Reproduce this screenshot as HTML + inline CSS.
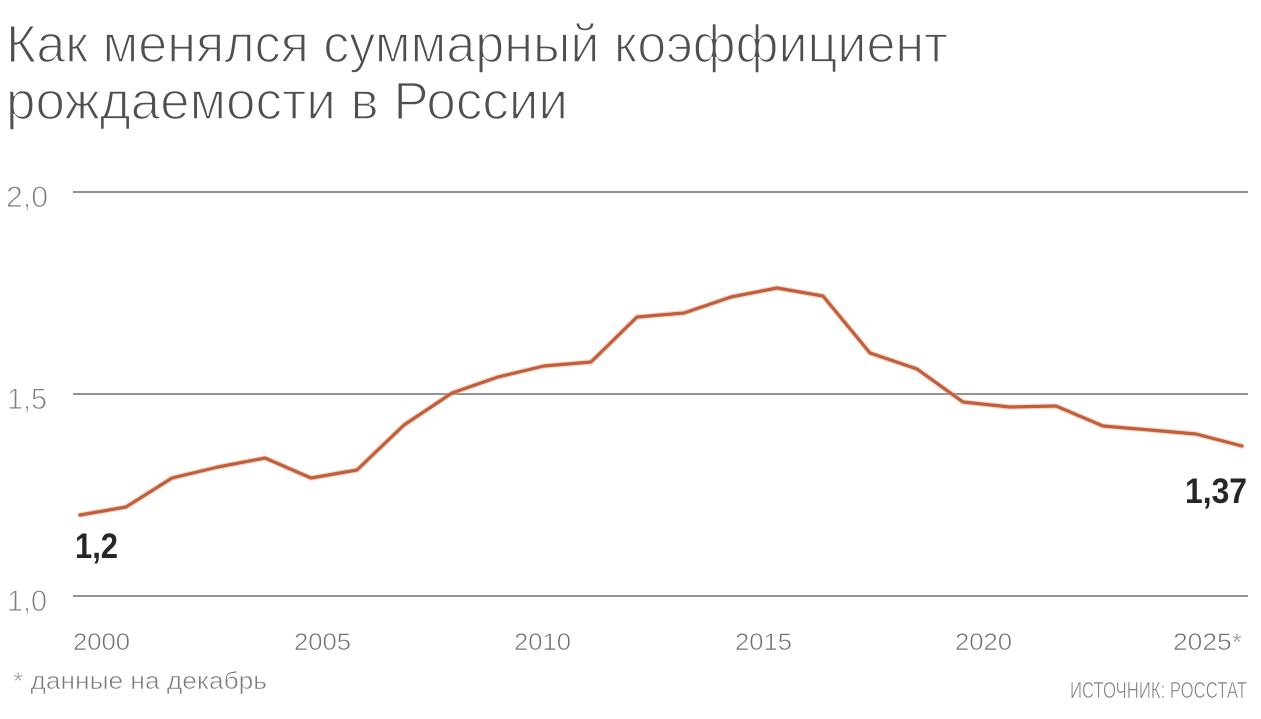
<!DOCTYPE html>
<html>
<head>
<meta charset="utf-8">
<style>
  html, body { margin: 0; padding: 0; background: #ffffff; }
  body { width: 1261px; height: 719px; overflow: hidden; }
  svg { display: block; }
  text { font-family: "Liberation Sans", "Noto Sans CJK SC", sans-serif; }
</style>
</head>
<body>
<svg width="1261" height="719" viewBox="0 0 1261 719" xmlns="http://www.w3.org/2000/svg">
  <rect x="0" y="0" width="1261" height="719" fill="#ffffff"/>

  <!-- Title (thinned with white stroke to mimic light weight) -->
  <text x="6" y="62" font-size="53" fill="#4f4f4f" stroke="#ffffff" stroke-width="1.6" textLength="942" lengthAdjust="spacingAndGlyphs">Как менялся суммарный коэффициент</text>
  <text x="6" y="119" font-size="53" fill="#4f4f4f" stroke="#ffffff" stroke-width="1.6" textLength="562" lengthAdjust="spacingAndGlyphs">рождаемости в России</text>

  <!-- Gridlines -->
  <line x1="73" y1="192" x2="1248" y2="192" stroke="#939393" stroke-width="2"/>
  <line x1="73" y1="394" x2="1248" y2="394" stroke="#939393" stroke-width="2"/>
  <line x1="73" y1="596" x2="1248" y2="596" stroke="#939393" stroke-width="2"/>

  <!-- Y labels -->
  <text x="6" y="207" font-size="30" fill="#7e7e7e" stroke="#ffffff" stroke-width="0.9" textLength="42" lengthAdjust="spacingAndGlyphs">2,0</text>
  <text x="7" y="409" font-size="30" fill="#7e7e7e" stroke="#ffffff" stroke-width="0.9" textLength="40" lengthAdjust="spacingAndGlyphs">1,5</text>
  <text x="7" y="611" font-size="30" fill="#7e7e7e" stroke="#ffffff" stroke-width="0.9" textLength="40" lengthAdjust="spacingAndGlyphs">1,0</text>

  <!-- X labels -->
  <text x="73" y="650" font-size="24" fill="#707070" stroke="#ffffff" stroke-width="0.6" textLength="57" lengthAdjust="spacingAndGlyphs">2000</text>
  <text x="294" y="650" font-size="24" fill="#707070" stroke="#ffffff" stroke-width="0.6" textLength="57" lengthAdjust="spacingAndGlyphs">2005</text>
  <text x="514" y="650" font-size="24" fill="#707070" stroke="#ffffff" stroke-width="0.6" textLength="57" lengthAdjust="spacingAndGlyphs">2010</text>
  <text x="735" y="650" font-size="24" fill="#707070" stroke="#ffffff" stroke-width="0.6" textLength="57" lengthAdjust="spacingAndGlyphs">2015</text>
  <text x="955" y="650" font-size="24" fill="#707070" stroke="#ffffff" stroke-width="0.6" textLength="57" lengthAdjust="spacingAndGlyphs">2020</text>
  <text x="1173" y="650" font-size="24" fill="#707070" stroke="#ffffff" stroke-width="0.6" textLength="69" lengthAdjust="spacingAndGlyphs">2025*</text>

  <!-- Data line -->
  <polyline fill="none" stroke="#e9a48a" stroke-width="5.5" stroke-linejoin="round" stroke-linecap="round" opacity="0.45"
    points="80,515 126,507 172,478 218,467 265,458 311,478 357,470 404,425 452,393 498,377 544,366 591,362 637,317 684,313 731,297 777,288 823,296 870,353 917,369 963,402 1010,407 1056,406 1103,426 1150,430 1196,434 1242,446"/>
  <polyline fill="none" stroke="#bf5f3c" stroke-width="3.2" stroke-linejoin="round" stroke-linecap="round"
    points="80,515 126,507 172,478 218,467 265,458 311,478 357,470 404,425 452,393 498,377 544,366 591,362 637,317 684,313 731,297 777,288 823,296 870,353 917,369 963,402 1010,407 1056,406 1103,426 1150,430 1196,434 1242,446"/>

  <!-- Value labels -->
  <text x="75" y="558" font-size="35" font-weight="bold" fill="#262626" textLength="43" lengthAdjust="spacingAndGlyphs">1,2</text>
  <text x="1185" y="503" font-size="35" font-weight="bold" fill="#262626" textLength="62" lengthAdjust="spacingAndGlyphs">1,37</text>

  <!-- Footer -->
  <text x="13" y="689" font-size="24" fill="#7a7a7a" stroke="#ffffff" stroke-width="0.6" textLength="254" lengthAdjust="spacingAndGlyphs">* данные на декабрь</text>
  <text x="1070" y="698" font-size="23" fill="#7a7a7a" stroke="#ffffff" stroke-width="0.6" textLength="177" lengthAdjust="spacingAndGlyphs">ИСТОЧНИК: РОССТАТ</text>
</svg>
</body>
</html>
